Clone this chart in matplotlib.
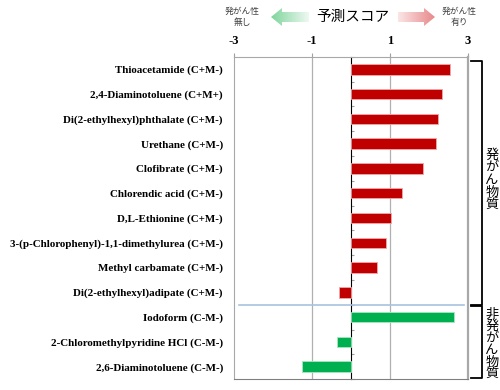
import numpy as np
import matplotlib
matplotlib.use('Agg')
import matplotlib.pyplot as plt
from matplotlib.patches import Polygon

# data
compounds = ['Thioacetamide (C+M-)', '2,4-Diaminotoluene (C+M+)',
             'Di(2-ethylhexyl)phthalate (C+M-)', 'Urethane (C+M-)',
             'Clofibrate (C+M-)', 'Chlorendic acid (C+M-)',
             'D,L-Ethionine (C+M-)', '3-(p-Chlorophenyl)-1,1-dimethylurea (C+M-)',
             'Methyl carbamate (C+M-)', 'Di(2-ethylhexyl)adipate (C+M-)',
             'Iodoform (C-M-)', '2-Chloromethylpyridine HCl (C-M-)',
             '2,6-Diaminotoluene (C-M-)']
scores = [2.53, 2.34, 2.22, 2.17, 1.85, 1.30, 1.02, 0.91, 0.66, -0.32,
          2.64, -0.36, -1.25]
carcinogen = [True] * 10 + [False] * 3
xticks = [-3, -1, 1, 3]

serif = 'Liberation Serif'
jp = ['Noto Sans CJK JP', 'DejaVu Sans']

fig = plt.figure(figsize=(5, 3.9), dpi=100)
ax = fig.add_axes([0.468, 0.028, 0.468, 0.826])

y = np.arange(len(compounds))
colors = ['#c00000' if c else '#00b050' for c in carcinogen]
edges = ['#f0a8a8' if c else '#a8e6c0' for c in carcinogen]
ax.barh(y, scores, height=0.42, color=colors, edgecolor=edges, linewidth=0.6, zorder=3)

ax.set_xlim(-3, 3)
ax.set_ylim(len(compounds) - 0.5, -0.5)
ax.xaxis.tick_top()
ax.set_xticks(xticks)
ax.set_xticklabels([str(t) for t in xticks], fontfamily=serif, fontweight='bold', fontsize=9)
ax.tick_params(axis='x', length=3, color='#a0a0a0', pad=4)
ax.set_yticks(y)
ax.set_yticklabels(compounds, fontfamily=serif, fontweight='bold', fontsize=7.9)
ax.tick_params(axis='y', length=0, pad=8)
for v in [-1, 1]:
    ax.axvline(v, color='#b0b0b0', lw=0.9, zorder=1)
for s in ['top', 'right', 'left']:
    ax.spines[s].set_color('#a8a8a8')
ax.spines['right'].set_linewidth(1.6)
ax.spines['bottom'].set_color('#808080')

# zero axis with category-boundary ticks
sec = ax.secondary_yaxis(0.5)
sec.set_yticks(np.arange(len(compounds) + 1) - 0.5)
sec.set_yticklabels([])
sec.tick_params(length=2.5, color='#a0a0a0')
sec.spines['left'].set_color('#a8a8a8')

# separator between groups
ax.axhline(9.5, xmin=0.02, xmax=0.985, color='#a6c3e0', lw=1.2, zorder=2)

# overlay in pixel coordinates for header and brackets
ov = fig.add_axes([0, 0, 1, 1], zorder=5)
ov.set_xlim(0, 500)
ov.set_ylim(390, 0)
ov.axis('off')

ov.text(353, 17, '予測スコア', fontfamily=jp, fontsize=10.5, ha='center', va='center')
ov.text(242, 17, '発がん性\n無し', fontfamily=jp, fontsize=6.3, ha='center', va='center',
        color='#404040', linespacing=1.3)
ov.text(459, 17, '発がん性\n有り', fontfamily=jp, fontsize=6.3, ha='center', va='center',
        color='#404040', linespacing=1.3)


def grad_arrow(x_tail, x_tip, yc, c_tail, c_tip):
    d = 1 if x_tip > x_tail else -1
    hb = x_tip - d * 11
    pts = [(x_tail, yc - 5), (hb, yc - 5), (hb, yc - 9), (x_tip, yc),
           (hb, yc + 9), (hb, yc + 5), (x_tail, yc + 5)]
    poly = Polygon(pts, closed=True, facecolor='none', edgecolor='none')
    ov.add_patch(poly)
    n = 64
    t = np.linspace(0, 1, n)
    c0 = np.array(matplotlib.colors.to_rgb(c_tail))
    c1 = np.array(matplotlib.colors.to_rgb(c_tip))
    img = (c0[None, :] * (1 - t[:, None]) + c1[None, :] * t[:, None])[None, :, :]
    x0, x1 = (x_tail, x_tip) if d > 0 else (x_tip, x_tail)
    if d < 0:
        img = img[:, ::-1, :]
    im = ov.imshow(img, extent=(x0, x1, yc + 10, yc - 10), aspect='auto', zorder=6)
    im.set_clip_path(poly)


grad_arrow(309, 271, 17, '#eef9f1', '#7fd49c')
grad_arrow(398, 435, 17, '#fbe6e6', '#e8888a')
ov.set_xlim(0, 500)
ov.set_ylim(390, 0)

# brackets with vertical group labels
for top, bot, label, step in [(61, 305, '発がん物質', 12.5), (306, 378, '非発がん物質', 12)]:
    ov.plot([471, 482, 482, 471], [top, top, bot, bot], color='black', lw=1.3)
    mid = (top + bot) / 2 + (2 if len(label) == 6 else -3)
    for i, ch in enumerate(label):
        ov.text(492, mid + (i - (len(label) - 1) / 2) * step, ch, fontfamily=jp,
                fontsize=9.5, ha='center', va='center')

fig.savefig('out.png', dpi=100)
